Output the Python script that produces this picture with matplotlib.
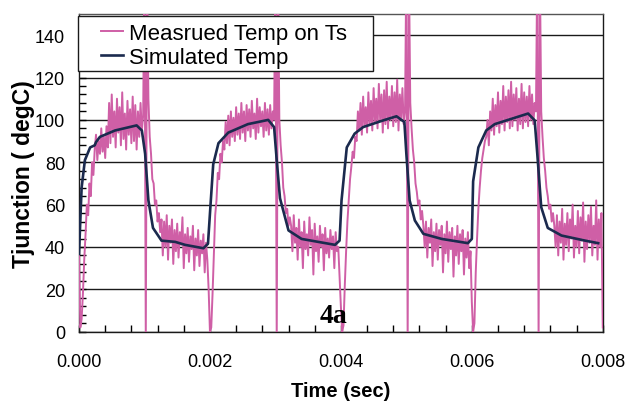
import numpy as np
import matplotlib
matplotlib.use('Agg')
import matplotlib.pyplot as plt
from matplotlib.patches import Rectangle
from matplotlib.ticker import MultipleLocator, FormatStrFormatter

# ============================================================================
# Data
# ============================================================================

# measured junction temperature, one sample every 20 us starting at t = 0
MEAS_DT = 0.00002
meas_temp = [
    # pulse 1: rise + on-state
    38, 2, 6, 18, 34, 46, 60, 55, 70, 64, 80, 74, 86,
    93, 81, 90, 84, 96, 85, 92, 82, 97, 87,
    108, 89, 112, 92, 104, 87, 110, 94, 106, 88, 113, 91, 103, 86, 109, 93,
    105, 89, 111, 90, 107, 86, 104, 92, 108, 95, 102,
    # switching spike at 0.001 and cool-down
    175, -5, 170, 110, 92, 84, 72, 70, 60, 62, 52, 56, 47, 53,
    36, 52, 40, 55, 34, 50, 42, 53, 32, 48, 38, 51, 35, 47, 41, 54, 30,
    46, 37, 49, 33, 45, 39, 50, 29, 44, 36, 48, 31, 43, 37, 46, 28, 42,
    34, 20,
    # pulse 2
    0, 2, 18, 36, 55, 62, 75, 72, 84, 80, 90,
    86, 99, 89, 102, 88, 104, 92, 101, 90, 106, 93, 103, 91, 108, 94, 104,
    90, 107, 95, 105, 92, 109, 96, 103, 91, 110, 94, 106, 97, 104, 92, 108,
    95, 105, 93, 107, 96, 104, 100,
    175, -5, 170, 100, 88, 80, 68, 64, 56, 58, 50, 54,
    50, 38, 55, 42, 49, 34, 53, 40, 47, 30, 52, 39, 46, 36, 54, 41, 48, 27,
    51, 38, 45, 33, 50, 40, 46, 29, 49, 37, 44, 35, 48, 39, 45, 30, 47, 38,
    40, 26,
    # pulse 3
    12, 0, 3, 22, 38, 52, 62, 72, 78, 85, 82, 92,
    90, 104, 95, 108, 93, 111, 97, 106, 94, 113, 98, 109, 95, 115, 99, 110,
    96, 117, 100, 112, 94, 114, 98, 118, 96, 111, 100, 116, 97, 113, 99, 119,
    95, 112, 101, 115, 98, 104,
    175, -5, 170, 108, 96, 86, 80, 70, 66, 60, 62, 53, 57, 50,
    40, 52, 35, 49, 42, 53, 31, 47, 38, 51, 34, 48, 41, 50, 28, 46, 37, 52,
    33, 47, 39, 49, 26, 45, 36, 50, 32, 46, 38, 48, 27, 44, 35, 47,
    30, 38,
    # pulse 4
    14, 0, 4, 28, 44, 58, 68, 76, 82, 86, 90,
    92, 100, 88, 104, 95, 110, 93, 107, 97, 113, 94, 109, 98, 116, 95, 111,
    99, 114, 96, 118, 97, 112, 100, 115, 95, 110, 98, 117, 96, 113, 99, 111,
    97, 116, 100, 112, 98, 108, 104,
    175, -5, 170, 104, 92, 82, 76, 68, 64, 58, 60, 52, 56,
    50, 40, 55, 36, 52, 42, 58, 34, 51, 41, 56, 38, 53, 44, 60, 35, 50, 40,
    57, 37, 54, 43, 61, 33, 52, 39, 55, 42, 59, 36, 50, 41, 62, 34, 53, 40,
    56, 2,
]

# simulated junction temperature (time in s, temperature in degC)
sim_time = [
    0.0, 0.00004, 0.00009, 0.00017, 0.00024, 0.00026, 0.00032, 0.00055,
    0.00088, 0.00096, 0.00101, 0.00106, 0.00113, 0.00126, 0.00147, 0.00162,
    0.0019, 0.00197, 0.002, 0.00205, 0.00213, 0.00228, 0.00258, 0.00289,
    0.00298, 0.00302, 0.00307, 0.0032, 0.0034, 0.00391, 0.00398, 0.00401,
    0.00409, 0.00421, 0.00434, 0.00467, 0.00485, 0.00497, 0.005, 0.00505,
    0.00513, 0.00526, 0.00554, 0.00594, 0.006, 0.00602, 0.0061, 0.00622,
    0.00635, 0.00686, 0.00696, 0.007, 0.00706, 0.00716, 0.00737, 0.00773,
    0.00793,
]
sim_temp = [
    36.7, 68, 81, 87, 88, 89.5, 92, 95,
    97.4, 95, 84, 62, 49, 43, 42.4, 41,
    39.4, 41.5, 55.7, 79, 89, 94, 98, 100,
    96.6, 81, 63, 47.8, 43.8, 41, 43, 62,
    87, 93.5, 96.6, 100, 101.7, 99, 84, 62,
    52.5, 46.2, 43.8, 41.8, 43.8, 71, 87, 95,
    98, 103, 99.8, 84, 58.8, 49, 45.4, 43,
    41.8,
]

MEAS_LABEL = 'Measrued Temp on Ts'
SIM_LABEL = 'Simulated Temp'

# ============================================================================
# Plot
# ============================================================================

plt.rcParams['font.family'] = ['Liberation Sans', 'DejaVu Sans']

fig = plt.figure(figsize=(6.28, 4.02), dpi=100)
ax = fig.add_axes([0.1258, 0.1724, 0.834, 0.7903])

meas_time = np.arange(len(meas_temp)) * MEAS_DT
ax.plot(meas_time, meas_temp, color='#CF5FA6', linewidth=1.4, label=MEAS_LABEL, zorder=3)
ax.plot(sim_time, sim_temp, color='#1B2A4E', linewidth=1.9, label=SIM_LABEL, zorder=4)

ax.set_xlim(0, 0.008)
ax.set_ylim(0, 150)

# axis ticks
ax.xaxis.set_major_locator(MultipleLocator(0.002))
ax.xaxis.set_minor_locator(MultipleLocator(0.0004))
ax.xaxis.set_major_formatter(FormatStrFormatter('%.3f'))
ax.set_yticks(range(0, 141, 20))
ax.yaxis.set_minor_locator(MultipleLocator(4))
ax.tick_params(axis='x', which='both', direction='in', length=5, width=1,
               labelsize=13, pad=15, top=False)
ax.tick_params(axis='y', which='both', direction='in', length=5, width=1,
               labelsize=13, pad=10, right=False)

ax.grid(True, axis='y', which='major', color='#1a1a1a', linewidth=1.0)
for side in ['left', 'bottom', 'right', 'top']:
    ax.spines[side].set_color('#1a1a1a')
    ax.spines[side].set_linewidth(1.0)
ax.spines['top'].set_color('#555555')

ax.set_xlabel('Time (sec)', fontsize=14.5, fontweight='bold', labelpad=8)
ax.set_ylabel('Tjunction ( degC)', fontsize=16.5, fontweight='bold', labelpad=0)

ax.text(0.00389, 4.6, '4a', fontsize=20, fontweight='bold',
        family=['Liberation Serif', 'DejaVu Serif'], ha='center', va='baseline', zorder=5)

# legend box (drawn separately so the padding matches the original)
box = Rectangle((-0.002, 0.8206), 0.563, 0.1731, transform=ax.transAxes,
                facecolor='white', edgecolor='#1a1a1a', linewidth=1.0, zorder=9,
                clip_on=False)
ax.add_patch(box)
leg = ax.legend(loc='upper left', bbox_to_anchor=(0.042, 0.972), fontsize=16,
                frameon=False, handlelength=1.0, handletextpad=0.25,
                labelspacing=0.15, borderpad=0, borderaxespad=0)
leg.set_zorder(10)

plt.savefig('out.png', dpi=100)
plt.close()
